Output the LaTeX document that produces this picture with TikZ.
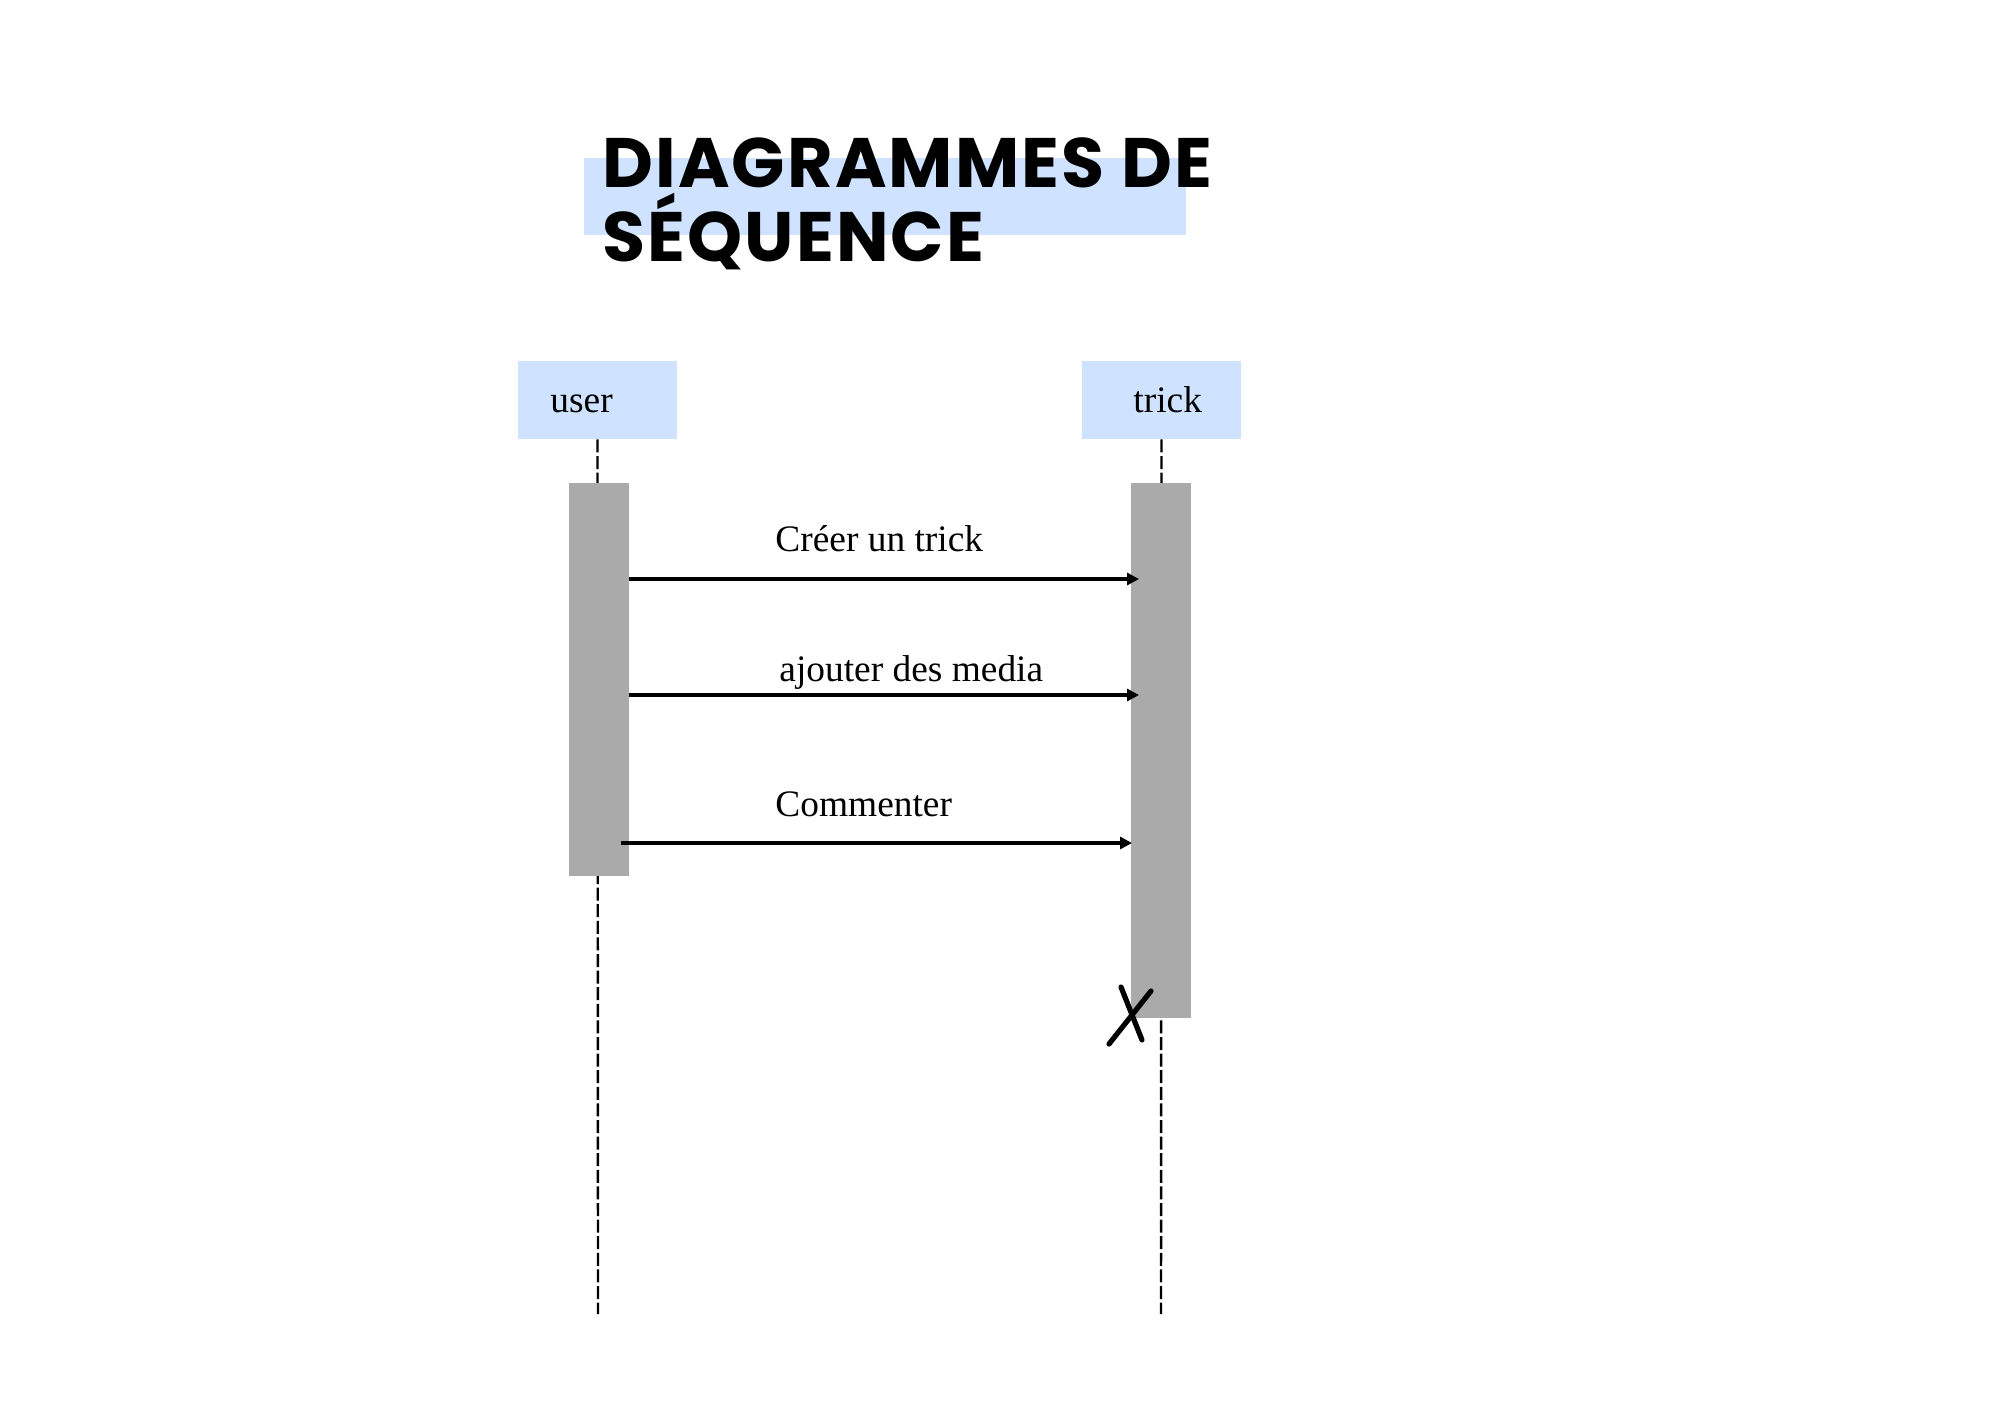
\documentclass[tikz,border=0pt]{standalone}
\usepackage{fontspec}
\setmainfont{Liberation Serif}
\newfontfamily\titlefont{Poppins}[LetterSpace=3]
\usetikzlibrary{arrows.meta}
\definecolor{hlblue}{RGB}{207,226,255}
\definecolor{actgray}{RGB}{170,170,170}
\tikzset{
  actor/.style={fill=hlblue, draw=none, minimum width=79.5pt, minimum height=39pt, inner sep=0pt},
  actbar/.style={fill=actgray, draw=none, inner sep=0pt},
  lifeline/.style={draw=black, line width=1.2pt, dash pattern=on 6.5pt off 1.8pt},
  msg/.style={draw=black, line width=1.6pt, -{Triangle[length=6pt,width=6pt]}},
  msglabel/.style={font=\fontsize{18.7pt}{22pt}\selectfont, anchor=base west, inner sep=0pt},
  ttl/.style={font=\titlefont\bfseries\fontsize{35pt}{35pt}\selectfont, anchor=base west, inner sep=0pt},
  destroy/.style={draw=black, line width=2.6pt, line cap=round}
}
\begin{document}
\begin{tikzpicture}[x=0.5pt,y=-0.5pt]
\useasboundingbox (0,0) rectangle (2000,1414);
% title
\fill[hlblue] (584,158) rectangle (1186,235);
\node[ttl] (t1) at (602,187.5) {DIAGRAMMES DE};
\node[ttl] (t2) at (602,261) {SÉQUENCE};
% actors
\node[actor] (user) at (597.5,400) {};
\node[actor] (trick) at (1161.5,400) {};
\node[msglabel] (userlbl) at (550,412) {user};
\node[msglabel] (tricklbl) at (1133,412) {trick};
% lifeline ends
\coordinate (uend) at (598,1314);
\coordinate (tend) at (1161,1314);
\draw[lifeline] (user.south) -- (uend);
\draw[lifeline] (trick.south) -- (tend);
% activation bars
\node[actbar, minimum width=30pt, minimum height=196.5pt] (ubar) at (599,679.5) {};
\node[actbar, minimum width=30pt, minimum height=267.5pt] (tbar) at (1161,750.5) {};
% messages
\coordinate (m1s) at (629,579); \coordinate (m1e) at (1139,579);
\coordinate (m2s) at (629,695); \coordinate (m2e) at (1139,695);
\coordinate (m3s) at (621,843); \coordinate (m3e) at (1132,843);
\draw[msg] (m1s) -- (m1e);
\draw[msg] (m2s) -- (m2e);
\draw[msg] (m3s) -- (m3e);
\node[msglabel] (l1) at (775,551) {Créer un trick};
\node[msglabel] (l2) at (779,681) {ajouter des media};
\node[msglabel] (l3) at (775,816) {Commenter};
% destruction mark
\coordinate (x1a) at (1121,987); \coordinate (x1b) at (1142,1040);
\coordinate (x2a) at (1151,991); \coordinate (x2b) at (1109,1044);
\draw[destroy] (x1a) -- (x1b);
\draw[destroy] (x2a) -- (x2b);
\end{tikzpicture}
\end{document}
